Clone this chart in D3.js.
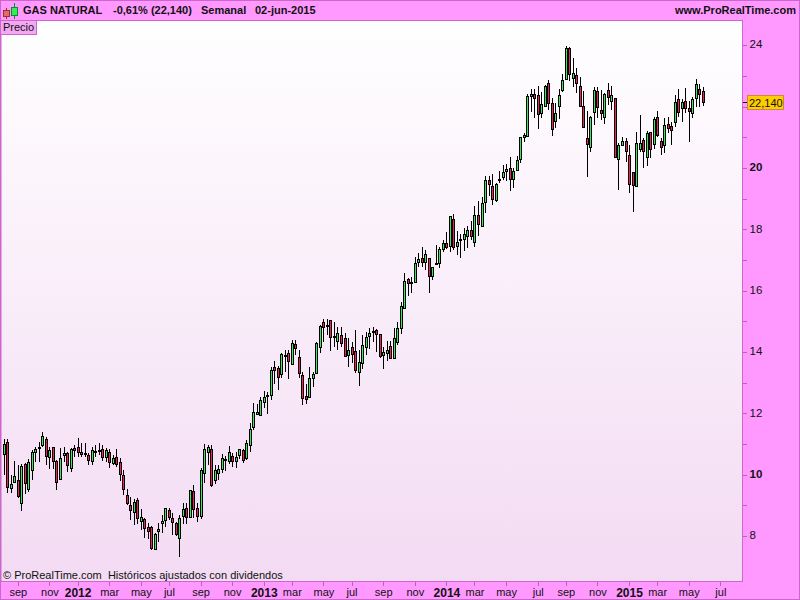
<!DOCTYPE html>
<html><head><meta charset="utf-8">
<script src="https://cdn.jsdelivr.net/npm/d3@7/dist/d3.min.js"></script>
<style>
html,body{margin:0;padding:0;background:#ff99ff}
svg{display:block}
text{font-family:"Liberation Sans",Arial,sans-serif;fill:#111}
</style></head><body>
<svg id="c" width="800" height="600"></svg>
<script>
const firstWeek = "2011-08-08", lastWeek = "2015-06-01";
const openVals = [
10.66,11.06,9.56,9.77,9.83,9.07,10.34,9.52,10.14,10.73,
10.86,10.96,11.16,10.57,10.89,10.43,9.87,10.63,10.70,10.23,
10.86,10.89,10.75,10.70,10.63,10.46,10.73,10.78,10.83,10.57,
10.73,10.37,10.57,10.40,9.98,9.33,9.00,8.77,9.16,8.48,
8.55,8.28,8.28,7.57,8.15,8.41,8.51,8.84,8.58,8.41,
7.92,8.64,8.90,8.61,9.46,8.90,8.66,10.04,10.75,10.83,
9.83,10.07,10.18,10.49,10.43,10.60,10.43,10.65,10.80,10.54,
10.96,11.54,11.98,11.95,12.38,12.55,12.61,13.50,13.47,13.27,
13.88,13.96,13.60,14.25,13.83,13.24,12.55,12.54,13.16,13.33,
14.17,14.97,14.84,15.03,14.49,14.37,14.54,14.45,13.91,14.15,
14.02,13.36,13.65,14.15,14.53,14.64,14.71,14.58,13.91,13.98,
14.19,13.82,14.31,14.77,15.42,16.38,16.25,16.29,16.92,17.05,
16.92,17.05,16.49,16.87,16.91,17.35,17.54,17.46,18.33,17.47,
17.64,17.67,17.79,17.97,17.60,18.46,18.12,18.88,19.60,19.40,
18.94,19.62,19.72,19.89,19.99,19.63,19.92,20.30,21.00,21.05,
22.36,22.40,22.38,21.78,22.03,22.76,22.11,21.52,22.03,22.53,
22.89,23.90,22.95,23.02,22.66,22.01,20.97,20.70,21.83,22.50,
21.88,21.65,22.53,22.20,22.27,20.28,20.74,20.87,20.41,19.86,
19.42,20.61,20.90,20.35,21.16,20.77,21.65,20.87,20.74,21.45,
21.36,21.49,22.24,21.94,22.20,21.94,21.78,22.27,22.56,22.50];
const closeVals = [
10.99,9.59,9.69,9.96,9.32,10.28,9.72,10.40,10.73,10.83,
10.90,11.26,10.62,10.80,10.46,9.75,10.53,10.70,10.31,10.84,
10.81,10.74,10.69,10.66,10.49,10.80,10.76,10.80,10.57,10.80,
10.40,10.53,10.34,10.01,9.52,9.07,8.84,9.12,8.58,8.63,
8.25,8.15,7.62,8.06,8.22,8.50,8.90,8.61,8.47,8.06,
8.58,8.87,8.63,9.49,8.87,8.65,10.14,10.83,10.89,9.66,
10.14,10.18,10.53,10.51,10.73,10.46,10.57,10.83,10.49,11.02,
11.48,12.03,12.03,12.42,12.52,12.59,13.41,13.41,13.20,13.92,
13.90,13.72,14.28,14.14,13.33,12.51,12.48,13.14,13.27,14.28,
14.84,14.83,14.87,14.50,14.51,14.61,14.29,13.88,14.05,13.94,
13.42,13.66,14.22,14.48,14.61,14.67,14.60,13.88,13.99,14.05,
13.82,14.45,14.77,15.49,16.30,16.24,16.27,16.89,17.02,16.94,
17.18,16.49,16.76,16.89,17.35,17.54,17.41,18.42,17.41,17.58,
17.67,17.84,17.97,17.79,18.46,18.16,18.85,19.60,19.47,19.00,
19.47,19.64,19.86,19.97,19.63,19.89,20.25,21.00,21.06,22.35,
22.40,22.29,21.75,22.07,22.66,22.11,21.28,21.78,22.37,22.86,
23.90,23.05,23.09,22.76,22.01,21.32,20.79,21.65,22.53,21.98,
21.78,22.40,22.30,22.37,20.37,20.74,20.87,20.54,19.47,19.43,
20.83,20.80,20.54,21.13,20.61,21.59,21.06,20.70,21.39,21.29,
21.23,22.14,21.81,22.14,21.94,21.85,22.24,22.73,22.40,22.14];
const highVals = [
11.15,11.15,9.99,10.44,10.32,10.34,10.39,10.50,10.81,10.91,
11.08,11.38,11.24,10.91,10.89,10.48,10.86,10.91,10.75,10.86,
10.97,11.19,11.02,11.02,10.70,10.89,10.97,11.02,10.97,10.86,
10.83,10.64,10.83,10.53,10.15,9.52,9.28,9.20,9.23,8.88,
8.58,8.41,8.33,8.11,8.41,8.69,8.90,8.90,8.74,8.47,
8.69,9.07,9.07,9.50,9.66,9.07,10.21,10.99,10.97,10.96,
10.32,10.32,10.66,10.61,10.94,10.72,10.75,10.83,10.83,11.13,
11.67,12.33,12.31,12.54,12.73,12.69,13.52,13.69,13.54,13.96,
14.06,14.06,14.39,14.39,14.06,13.36,12.96,13.52,13.36,14.34,
14.88,15.08,15.07,15.03,14.99,14.83,14.80,14.61,14.47,14.34,
14.72,14.07,14.55,14.64,14.77,14.83,14.74,14.58,14.15,14.37,
14.37,14.77,14.97,15.62,16.57,16.40,16.46,17.11,17.22,17.41,
17.33,17.05,16.76,17.49,17.41,17.65,17.92,18.43,18.49,17.94,
17.85,18.03,18.11,18.27,18.76,18.92,19.04,19.74,19.74,19.80,
19.50,19.90,20.10,20.12,20.35,19.99,20.39,21.02,21.13,22.40,
22.56,22.56,22.67,22.47,22.70,22.87,22.29,22.13,22.56,23.05,
23.98,23.93,23.57,23.25,22.98,22.51,21.86,21.69,22.65,22.63,
22.54,22.43,22.76,22.67,22.27,20.80,21.00,20.97,20.75,19.86,
21.16,21.73,20.97,21.20,21.16,21.65,21.86,20.97,21.62,21.67,
21.51,22.38,22.57,22.24,22.60,22.19,22.32,22.90,22.74,22.63];
const lowVals = [
9.99,9.41,9.41,9.77,9.23,8.83,9.37,9.45,9.83,10.42,
10.42,10.91,10.32,10.19,10.19,9.50,9.85,10.42,10.10,10.10,
10.57,10.57,10.59,10.57,10.32,10.32,10.57,10.64,10.46,10.42,
10.23,10.32,10.26,9.79,9.34,9.01,8.52,8.36,8.39,8.20,
7.92,7.89,7.54,7.54,7.82,8.09,8.30,8.52,8.03,8.01,
7.33,8.39,8.39,8.58,8.58,8.47,8.55,9.74,10.32,9.61,
9.70,9.83,10.04,10.13,10.35,10.26,10.22,10.51,10.37,10.48,
10.74,11.44,11.95,11.92,12.16,11.98,12.43,12.96,12.76,13.14,
13.36,13.12,13.58,13.90,13.16,12.27,12.30,12.52,12.87,13.30,
13.98,14.34,14.55,14.04,14.17,14.07,14.17,13.85,13.52,13.65,
13.30,12.89,13.45,13.90,14.10,14.34,13.99,13.82,13.45,13.72,
13.79,13.79,14.23,14.58,15.39,15.83,15.91,16.26,16.78,16.76,
16.67,15.93,16.35,16.84,16.75,17.27,17.35,17.27,17.33,17.16,
17.07,17.30,17.38,17.65,17.43,17.78,18.09,18.54,19.09,18.79,
18.88,19.52,19.61,19.59,19.26,19.36,19.90,20.17,20.86,21.04,
21.83,21.64,21.27,21.62,21.98,21.89,21.05,21.29,21.60,22.47,
22.87,22.85,22.63,22.43,22.00,21.31,19.70,20.53,21.40,21.62,
21.56,21.43,22.05,21.89,20.31,19.28,20.73,20.20,19.17,18.57,
19.39,20.51,19.99,20.06,20.31,20.61,21.00,20.42,20.48,21.13,
20.75,21.35,21.65,21.51,21.78,20.86,21.62,21.98,21.98,22.03];
const monthNames = ["ene","feb","mar","abr","may","jun","jul","ago","sep","oct","nov","dic"];
const priceTicks = [8,9,10,11,12,13,14,15,16,17,18,19,20,21,22,23,24];
const lastPriceLabel = "22,140";
const lastPrice = 22.14;

const GREEN="#2ff058", RED="#f01f5e", EDGE="#cc66cc", OUTER="#ff99ff", TICK="#b566b5";
const svg=d3.select("#c");
const W=800,H=600, plotR=742.5, plotT=20.5, plotB=581.5;

const defs=svg.append("defs");
const grad=defs.append("linearGradient").attr("id","bg").attr("x1",0).attr("x2",0).attr("y1",0).attr("y2",1);
grad.append("stop").attr("offset",0).attr("stop-color","#ffffff");
grad.append("stop").attr("offset",1).attr("stop-color","#f3dbf3");

svg.append("rect").attr("width",W).attr("height",H).attr("fill",OUTER);
svg.append("rect").attr("x",0.5).attr("y",0.5).attr("width",W-1).attr("height",H-1).attr("fill","none").attr("stroke",EDGE);
svg.append("rect").attr("x",1).attr("y",plotT).attr("width",plotR-1).attr("height",plotB-plotT).attr("fill","url(#bg)").attr("stroke",EDGE);

const weeks=d3.utcMonday.range(new Date(firstWeek+"T00:00:00Z"),d3.utcDay.offset(new Date(lastWeek+"T00:00:00Z"),1));
const x=d3.scaleUtc().domain([weeks[0],weeks[weeks.length-1]]).range([3.8,702.8]);
const y=d3.scaleLinear().domain([8,24]).range([536,45.3]);

const bars=weeks.map((d,i)=>({d,o:openVals[i],h:highVals[i],l:lowVals[i],c:closeVals[i]}));
const px=v=>Math.round(v)+0.5;
const cs=svg.append("g").selectAll("g").data(bars).join("g");
cs.append("line").attr("x1",d=>px(x(d.d))).attr("x2",d=>px(x(d.d)))
  .attr("y1",d=>Math.round(y(d.h))).attr("y2",d=>Math.round(y(d.l)))
  .attr("stroke","#000").attr("stroke-width",1).attr("shape-rendering","crispEdges");
cs.append("rect").attr("x",d=>px(x(d.d))-1).attr("width",2)
  .attr("y",d=>Math.round(y(Math.max(d.o,d.c)))+0.5)
  .attr("height",d=>Math.max(1,Math.round(y(Math.min(d.o,d.c)))-Math.round(y(Math.max(d.o,d.c)))))
  .attr("fill",d=>d.c>=d.o?GREEN:RED).attr("stroke","#000").attr("stroke-width",1).attr("shape-rendering","crispEdges");

// x axis: a tick on the first Monday bar of every second month
const tickMonths=d3.utcMonth.range(new Date("2011-09-01T00:00:00Z"),new Date("2015-08-01T00:00:00Z"),2);
const tickDates=tickMonths.map(m=>d3.utcMonday.ceil(m));
const isYear=d=>d3.utcMonth.floor(d).getUTCMonth()===0;
const fmtX=d=>{const m=d3.utcMonth.floor(d);return isYear(d)?String(m.getUTCFullYear()):monthNames[m.getUTCMonth()];};
const gx=svg.append("g").attr("transform",`translate(0,${plotB})`)
  .call(d3.axisBottom(x).tickValues(tickDates).tickFormat(fmtX).tickSize(4).tickPadding(3));
gx.select(".domain").remove();
gx.selectAll("line").attr("stroke",TICK).attr("shape-rendering","crispEdges");
gx.selectAll("text").attr("fill","#111")
  .attr("font-weight",d=>isYear(d)?"bold":"normal")
  .attr("font-size",d=>isYear(d)?12:11);

// y axis
const gy=svg.append("g").attr("transform",`translate(${plotR},0)`)
  .call(d3.axisRight(y).tickValues(priceTicks).tickFormat(v=>(v%2===0&&v!==22)?String(v):"").tickSize(4).tickPadding(3));
gy.select(".domain").remove();
gy.selectAll("line").attr("stroke",TICK).attr("shape-rendering","crispEdges");
gy.selectAll("text").attr("font-size",11.5).attr("fill","#111").attr("y",-1)
  .attr("font-weight",v=>v%10===0?"bold":"normal");
gy.selectAll("text").filter(function(){return this.textContent==="";}).remove();

// last price marker
const yl=y(lastPrice);
svg.append("line").attr("x1",plotR).attr("x2",plotR+5).attr("y1",Math.round(yl)+0.5).attr("y2",Math.round(yl)+0.5).attr("stroke","#000").attr("shape-rendering","crispEdges");
svg.append("rect").attr("x",747.5).attr("y",Math.round(yl)-6.5).attr("width",36).attr("height",14).attr("fill","#ffcc00").attr("stroke","#cc8833").attr("shape-rendering","crispEdges");
svg.append("text").attr("x",749).attr("y",Math.round(yl)+5).attr("font-size",11).text(lastPriceLabel);

// header
const icon=(cx,top,bot,hi,lo,fill,st)=>{
  svg.append("line").attr("x1",cx).attr("x2",cx).attr("y1",hi).attr("y2",lo).attr("stroke",st).attr("shape-rendering","crispEdges");
  svg.append("rect").attr("x",cx-3).attr("y",top).attr("width",6).attr("height",bot-top).attr("fill",fill).attr("stroke",st).attr("shape-rendering","crispEdges");
};
icon(6.5,10.5,16.5,8,19,"#e66a6a","#993333");
icon(14.5,7.5,15.5,3,19,"#33ee55","#118833");
const head=[["GAS NATURAL",23],["-0,61% (22,140)",113],["Semanal",201],["02-jun-2015",255]];
svg.selectAll(".h").data(head).join("text").attr("class","h").attr("x",d=>d[1]).attr("y",14).attr("font-size",11).attr("font-weight","bold").text(d=>d[0]);
svg.append("text").attr("x",796).attr("y",14).attr("text-anchor","end").attr("font-size",11).attr("font-weight","bold").text("www.ProRealTime.com");

// legend
svg.append("rect").attr("x",0.5).attr("y",20.5).attr("width",36).attr("height",14).attr("fill","#f3a8f3").attr("stroke",EDGE).attr("shape-rendering","crispEdges");
svg.append("text").attr("x",3).attr("y",31).attr("font-size",11).text("Precio");

svg.append("text").attr("x",3).attr("y",579).attr("font-size",11).attr("xml:space","preserve").text("© ProRealTime.com  Históricos ajustados con dividendos");
</script>
</body></html>
